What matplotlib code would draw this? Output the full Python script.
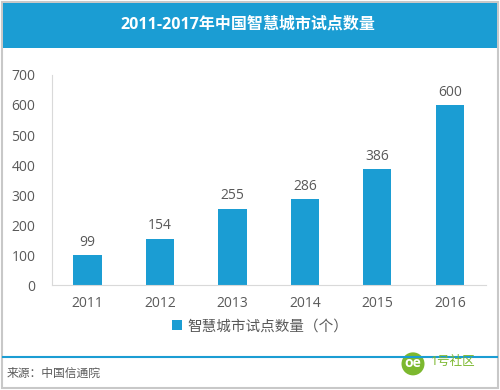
import matplotlib.pyplot as plt
from matplotlib.patches import Rectangle, Ellipse
from matplotlib.lines import Line2D

plt.rcParams['font.family'] = ['Open Sans', 'Noto Sans CJK SC', 'DejaVu Sans']

years = ['2011', '2012', '2013', '2014', '2015', '2016']
counts = [99, 154, 255, 286, 386, 600]
yticks = [0, 100, 200, 300, 400, 500, 600, 700]

blue = '#1b9dd3'
green = '#7cb82f'
grey_txt = '#595959'

fig = plt.figure(figsize=(5, 3.9), dpi=100)

# 外框
fig.patches.append(Rectangle((0.004, 0.004), 0.992, 0.992, transform=fig.transFigure,
                             fill=False, edgecolor='#c8c8c8', linewidth=1.5))
# 标题栏
fig.patches.append(Rectangle((0.006, 0.877), 0.988, 0.115, transform=fig.transFigure,
                             facecolor=blue, edgecolor='none'))
fig.text(0.495, 0.937, '2011-2017年中国智慧城市试点数量', color='white',
         fontsize=11.5, fontweight='bold', ha='center', va='center')

ax = fig.add_axes([0.104, 0.2692, 0.868, 0.5385])
x = list(range(len(years)))
bars = ax.bar(x, counts, width=0.39, color=blue, label='智慧城市试点数量（个）')
for xi, v in zip(x, counts):
    ax.text(xi, v + 18, str(v), ha='center', va='bottom', fontsize=10, color=grey_txt)

ax.set_xlim(-0.49, 5.5)
ax.set_ylim(0, 700)
ax.set_yticks(yticks)
ax.set_xticks(x)
ax.set_xticklabels(years)
ax.tick_params(length=0, labelsize=10, colors=grey_txt)
ax.tick_params(axis='y', pad=12)
ax.tick_params(axis='x', pad=8)
for s in ['top', 'right']:
    ax.spines[s].set_visible(False)
ax.spines['left'].set_color('#d9d9d9')
ax.spines['bottom'].set_color('#d9d9d9')

fig.legend(handles=[bars], loc='center', bbox_to_anchor=(0.52, 0.162), frameon=False,
           fontsize=10.5, handlelength=0.7, handleheight=0.7, handletextpad=0.4,
           labelcolor=grey_txt)

# 底部分隔线
fig.add_artist(Line2D([0.006, 0.994], [0.085, 0.085], transform=fig.transFigure,
                      color=blue, linewidth=1.5))
fig.text(0.014, 0.043, '来源：中国信通院', fontsize=8.5, color=grey_txt, va='center')

# 1号社区 标志
fig.patches.append(Ellipse((0.826, 0.067), 0.046, 0.059, transform=fig.transFigure,
                           facecolor=green, edgecolor='none'))
fig.text(0.826, 0.07, 'oe', color='white', fontsize=10, fontweight='bold',
         ha='center', va='center')
fig.text(0.862, 0.072, '1号社区', color=green, fontsize=9, va='center')

fig.savefig('out.png', dpi=100)
